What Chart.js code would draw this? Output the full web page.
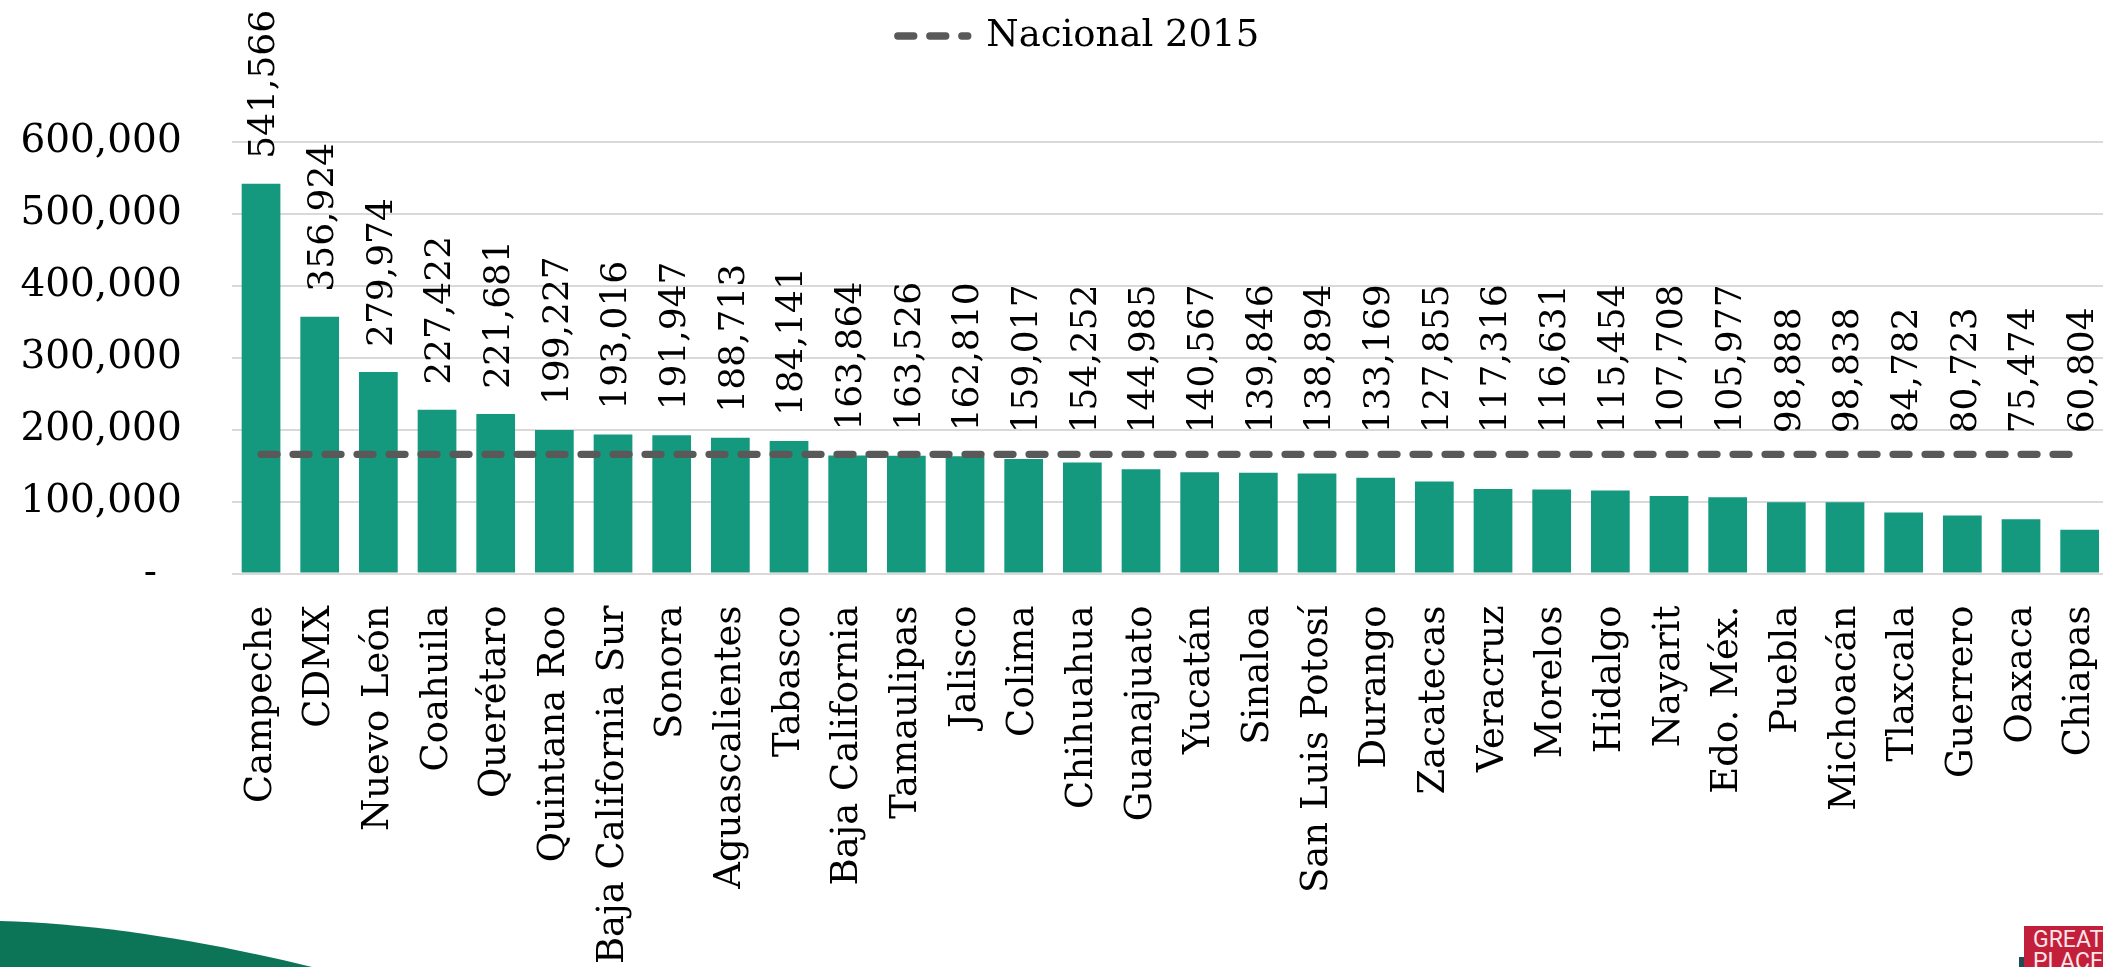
<!DOCTYPE html>
<html>
<head>
<meta charset="utf-8">
<script src="https://cdn.jsdelivr.net/npm/chart.js@4.4.0/dist/chart.umd.min.js"></script>
<style>
  html, body { margin: 0; padding: 0; background: #fff; overflow: hidden; }
  #wrap { position: relative; width: 2103px; height: 967px; overflow: hidden; }
  #swoosh { position: absolute; left: 0; top: 0; }
  #chart { position: absolute; left: 0; top: 0; }
  #logo { position: absolute; left: 2024px; top: 926px; width: 90px; height: 41px; background: #c41f3a;
          color: #fbe6ea; font: 23px/22px Roboto, sans-serif; padding: 3px 0 0 9px; box-sizing: border-box; overflow: hidden; }
  #strip { position: absolute; left: 2019px; top: 957px; width: 5px; height: 10px; background: #1f4d57; }
</style>
</head>
<body>
<div id="wrap">
  <svg id="swoosh" width="2103" height="967"><path d="M0,921 C100,924 200,940 312,967 L0,967 Z" fill="#0d7557"/></svg>
  <div id="strip"></div>
  <div id="logo">GREAT<br>PLACE</div>
  <canvas id="chart" width="2157" height="967"></canvas>
</div>
<script>
const estados = ['Campeche', 'CDMX', 'Nuevo León', 'Coahuila', 'Querétaro', 'Quintana Roo', 'Baja California Sur',
  'Sonora', 'Aguascalientes', 'Tabasco', 'Baja California', 'Tamaulipas', 'Jalisco', 'Colima', 'Chihuahua',
  'Guanajuato', 'Yucatán', 'Sinaloa', 'San Luis Potosí', 'Durango', 'Zacatecas', 'Veracruz', 'Morelos', 'Hidalgo',
  'Nayarit', 'Edo. Méx.', 'Puebla', 'Michoacán', 'Tlaxcala', 'Guerrero', 'Oaxaca', 'Chiapas'];
const valores = [541566, 356924, 279974, 227422, 221681, 199227, 193016, 191947, 188713, 184141, 163864, 163526,
  162810, 159017, 154252, 144985, 140567, 139846, 138894, 133169, 127855, 117316, 116631, 115454, 107708, 105977,
  98888, 98838, 84782, 80723, 75474, 60804];
const nacional = [165600, 165600, 165600, 165600, 165600, 165600, 165600, 165600, 165600, 165600, 165600, 165600,
  165600, 165600, 165600, 165600, 165600, 165600, 165600, 165600, 165600, 165600, 165600, 165600, 165600, 165600,
  165600, 165600, 165600, 165600, 165600, 165600];
const yTickLabels = ['-  ', '100,000', '200,000', '300,000', '400,000', '500,000', '600,000'];

const fuente = 'DejaVu Serif';
Chart.defaults.font.family = fuente;
Chart.defaults.color = '#000';

// etiquetas de valor verticales sobre cada barra
const etiquetas = {
  id: 'etiquetas',
  afterDatasetsDraw(chart) {
    const ctx = chart.ctx;
    const barras = chart.getDatasetMeta(0).data;
    const linea = chart.getDatasetMeta(1).data;
    ctx.save();
    ctx.font = '36px "' + fuente + '"';
    ctx.fillStyle = '#000';
    ctx.textAlign = 'left';
    ctx.textBaseline = 'middle';
    barras.forEach((b, i) => {
      const y = Math.min(b.y - 25, linea[i].y - 21);
      ctx.save();
      ctx.translate(b.x + 4, y);
      ctx.rotate(-Math.PI / 2);
      ctx.fillText(valores[i].toLocaleString('en-US'), 0, 0);
      ctx.restore();
    });
    ctx.restore();
  }
};

new Chart(document.getElementById('chart'), {
  type: 'bar',
  data: {
    labels: estados,
    datasets: [
      { label: 'Estados', data: valores, backgroundColor: '#14997f', borderWidth: 0,
        barPercentage: 0.66, categoryPercentage: 1, order: 1 },
      { type: 'line', label: 'Nacional 2015', data: nacional, borderColor: '#595959', backgroundColor: '#595959',
        borderWidth: 7.3, borderDash: [16, 16], borderCapStyle: 'round', pointRadius: 0, fill: false, order: 0 }
    ]
  },
  options: {
    responsive: false,
    animation: false,
    events: [],
    layout: { padding: 0 },
    plugins: {
      tooltip: { enabled: false },
      legend: {
        position: 'top',
        labels: {
          generateLabels: chart => Chart.defaults.plugins.legend.labels.generateLabels(chart)
            .filter(it => it.datasetIndex === 1)
            .map(it => {
              const ds = chart.data.datasets[it.datasetIndex];
              return Object.assign(it, { lineDash: ds.borderDash, lineCap: ds.borderCapStyle,
                lineWidth: ds.borderWidth, strokeStyle: ds.borderColor, pointStyle: 'line' });
            }),
          usePointStyle: true, pointStyle: 'line', pointStyleWidth: 70,
          font: { family: fuente, size: 37 }, color: '#000', padding: 17.5
        }
      },
      title: { display: true, text: '', weight: 500, padding: { top: 0, bottom: 76.2 }, font: { size: 1, lineHeight: 1 } }
    },
    scales: {
      x: {
        grid: { display: false, drawTicks: false },
        border: { display: false },
        ticks: { font: { family: fuente, size: 37 }, color: '#000', minRotation: 90, maxRotation: 90, autoSkip: false, padding: 32 },
        afterFit: s => { s.height = 393.5; s.paddingLeft = 0; s.paddingRight = 48; }
      },
      y: {
        min: 0, max: 600000,
        grid: { color: '#d9d9d9', lineWidth: 2, drawTicks: false },
        border: { display: false },
        ticks: { stepSize: 100000, font: { family: fuente, size: 39 }, color: '#000', padding: 50,
                 callback: (v, i) => yTickLabels[i] },
        afterFit: s => { s.width = 231.7; }
      }
    }
  },
  plugins: [etiquetas]
});
</script>
</body>
</html>
